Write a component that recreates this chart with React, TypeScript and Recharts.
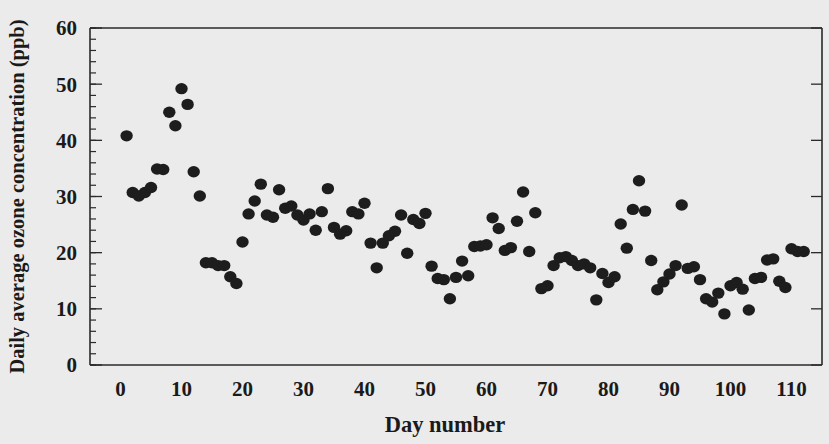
import React from 'react';
import { ScatterChart, Scatter, XAxis, YAxis, Label } from 'recharts';

const days = [
  1, 2, 3, 4, 5, 6, 7, 8, 9, 10, 11, 12, 13, 14, 15, 16, 17, 18, 19, 20,
  21, 22, 23, 24, 25, 26, 27, 28, 29, 30, 31, 32, 33, 34, 35, 36, 37, 38, 39, 40,
  41, 42, 43, 44, 45, 46, 47, 48, 49, 50, 51, 52, 53, 54, 55, 56, 57, 58, 59, 60,
  61, 62, 63, 64, 65, 66, 67, 68, 69, 70, 71, 72, 73, 74, 75, 76, 77, 78, 79, 80,
  81, 82, 83, 84, 85, 86, 87, 88, 89, 90, 91, 92, 93, 94, 95, 96, 97, 98, 99, 100,
  101, 102, 103, 104, 105, 106, 107, 108, 109, 110, 111, 112,
];

const ozone = [
  40.8, 30.7, 30.1, 30.7, 31.6, 34.9, 34.8, 45.0, 42.6, 49.2,
  46.4, 34.4, 30.1, 18.2, 18.2, 17.7, 17.7, 15.7, 14.5, 21.9,
  26.9, 29.2, 32.2, 26.7, 26.3, 31.2, 27.9, 28.3, 26.7, 25.8,
  26.9, 24.0, 27.3, 31.4, 24.5, 23.3, 23.9, 27.3, 26.9, 28.8,
  21.7, 17.3, 21.7, 23.0, 23.8, 26.7, 19.9, 25.9, 25.2, 27.0,
  17.6, 15.4, 15.2, 11.8, 15.6, 18.5, 15.9, 21.1, 21.2, 21.4,
  26.2, 24.3, 20.4, 20.9, 25.6, 30.8, 20.2, 27.1, 13.6, 14.1,
  17.7, 19.1, 19.3, 18.6, 17.7, 18.0, 17.3, 11.6, 16.3, 14.7,
  15.7, 25.1, 20.8, 27.7, 32.8, 27.4, 18.6, 13.4, 14.8, 16.2,
  17.7, 28.5, 17.2, 17.5, 15.2, 11.8, 11.2, 12.8, 9.1, 14.1,
  14.7, 13.5, 9.8, 15.4, 15.6, 18.7, 18.9, 14.9, 13.8, 20.7,
  20.2, 20.2,
];

const xTicks = [0, 10, 20, 30, 40, 50, 60, 70, 80, 90, 100, 110];
const xMinorTicks = [
  -4, -2, 0, 2, 4, 6, 8, 10, 12, 14, 16, 18, 20, 22, 24, 26, 28, 30, 32, 34, 36, 38,
  40, 42, 44, 46, 48, 50, 52, 54, 56, 58, 60, 62, 64, 66, 68, 70, 72, 74, 76, 78,
  80, 82, 84, 86, 88, 90, 92, 94, 96, 98, 100, 102, 104, 106, 108, 110, 112, 114,
];
const yTicks = [0, 10, 20, 30, 40, 50, 60];
const yMinorTicks = [
  0, 2, 4, 6, 8, 10, 12, 14, 16, 18, 20, 22, 24, 26, 28, 30, 32, 34, 36, 38, 40,
  42, 44, 46, 48, 50, 52, 54, 56, 58, 60,
];

const xDomain: [number, number] = [-5, 115];
const yDomain: [number, number] = [0, 60];

const data = days.map((d, i) => ({ day: d, ozone: ozone[i] }));

const FONT = '"Liberation Serif", "Times New Roman", serif';
const INK = '#2a2a2a';
const TINY = 0.01;
const tickFont = { fontFamily: FONT, fontSize: 21, fontWeight: 700, fill: '#1a1a1a' };

const NoLabel = () => <g />;

const Dot = (p: any) => (
  <ellipse cx={p.cx} cy={p.cy} rx={6.2} ry={5.7} fill="#1d1d1d" />
);

export default function App() {
  return (
    <div style={{ position: 'absolute', left: 0, top: 0, width: 829, height: 444, background: '#ebebeb' }}>
      <ScatterChart width={829} height={444} margin={{ top: 28, right: 7, bottom: 0, left: 0 }}>
        <XAxis
          xAxisId="x"
          dataKey="day"
          type="number"
          domain={xDomain}
          ticks={xTicks}
          allowDataOverflow
          height={79}
          axisLine={false}
          tickLine={false}
          tickSize={0}
          tickMargin={16}
          tick={tickFont}
          interval={0}
        >
          <Label
            content={(props: any) => {
              const vb = props.viewBox || {};
              return (
                <text
                  x={vb.x + vb.width / 2 - 11}
                  y={vb.y + 67}
                  textAnchor="middle"
                  fontFamily={FONT}
                  fontSize={22.5}
                  fontWeight={700}
                  fill="#1a1a1a"
                >
                  Day number
                </text>
              );
            }}
          />
        </XAxis>
        <YAxis
          yAxisId="y"
          dataKey="ozone"
          type="number"
          domain={yDomain}
          ticks={yTicks}
          allowDataOverflow
          width={90}
          axisLine={false}
          tickLine={false}
          tickSize={0}
          tickMargin={13}
          tick={tickFont}
          interval={0}
        >
          <Label
            content={(props: any) => {
              const vb = props.viewBox || {};
              const cx = vb.x + 24;
              const cy = vb.y + vb.height / 2;
              return (
                <text
                  x={cx}
                  y={cy}
                  transform={`rotate(-90 ${cx} ${cy})`}
                  textAnchor="middle"
                  fontFamily={FONT}
                  fontSize={20.5}
                  fontWeight={700}
                  fill="#1a1a1a"
                >
                  Daily average ozone concentration (ppb)
                </text>
              );
            }}
          />
        </YAxis>

        <XAxis xAxisId="bMaj" type="number" domain={xDomain} ticks={xTicks} allowDataOverflow orientation="bottom" mirror height={TINY}
          tick={<NoLabel />} tickSize={11} tickLine={{ stroke: INK, strokeWidth: 1.3 }} axisLine={{ stroke: INK, strokeWidth: 1.6 }} interval={0} />
        <XAxis xAxisId="bMin" type="number" domain={xDomain} ticks={xMinorTicks} allowDataOverflow orientation="bottom" mirror height={TINY}
          tick={<NoLabel />} tickSize={5} tickLine={{ stroke: INK, strokeWidth: 1.2 }} axisLine={false} interval={0} />
        <XAxis xAxisId="tMaj" type="number" domain={xDomain} ticks={xTicks} allowDataOverflow orientation="top" mirror height={TINY}
          tick={<NoLabel />} tickSize={11} tickLine={{ stroke: INK, strokeWidth: 1.3 }} axisLine={{ stroke: INK, strokeWidth: 1.6 }} interval={0} />
        <XAxis xAxisId="tMin" type="number" domain={xDomain} ticks={xMinorTicks} allowDataOverflow orientation="top" mirror height={TINY}
          tick={<NoLabel />} tickSize={5} tickLine={{ stroke: INK, strokeWidth: 1.2 }} axisLine={false} interval={0} />
        <YAxis yAxisId="lMaj" type="number" domain={yDomain} ticks={yTicks} allowDataOverflow orientation="left" mirror width={TINY}
          tick={<NoLabel />} tickSize={12} tickLine={{ stroke: INK, strokeWidth: 1.3 }} axisLine={{ stroke: INK, strokeWidth: 1.6 }} interval={0} />
        <YAxis yAxisId="lMin" type="number" domain={yDomain} ticks={yMinorTicks} allowDataOverflow orientation="left" mirror width={TINY}
          tick={<NoLabel />} tickSize={6} tickLine={{ stroke: INK, strokeWidth: 1.2 }} axisLine={false} interval={0} />
        <YAxis yAxisId="rMaj" type="number" domain={yDomain} ticks={yTicks} allowDataOverflow orientation="right" mirror width={TINY}
          tick={<NoLabel />} tickSize={11} tickLine={{ stroke: INK, strokeWidth: 1.3 }} axisLine={{ stroke: INK, strokeWidth: 1.6 }} interval={0} />

        <Scatter
          xAxisId="x"
          yAxisId="y"
          data={data}
          dataKey="ozone"
          shape={<Dot />}
          isAnimationActive={false}
        />
      </ScatterChart>
    </div>
  );
}
